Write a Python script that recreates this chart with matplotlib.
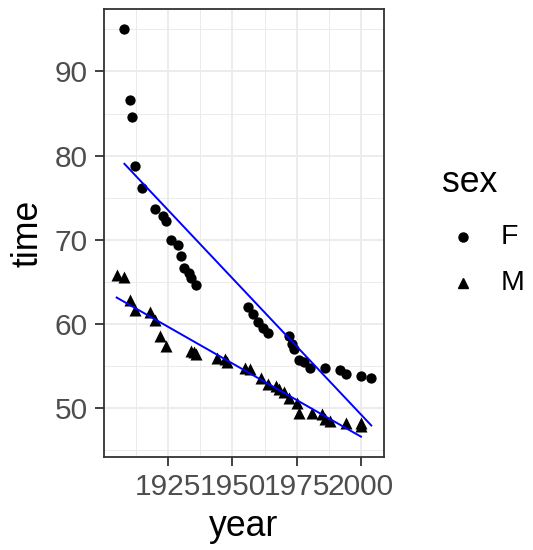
import numpy as np
import matplotlib.pyplot as plt
from matplotlib.lines import Line2D

plt.rcParams['font.family'] = ['Liberation Sans', 'DejaVu Sans']

# --- data: 100m freestyle world records ---
year_m = [1905, 1908, 1910, 1912, 1918, 1920, 1922, 1924, 1934, 1935, 1936,
          1944, 1947, 1948, 1955, 1957, 1961, 1964, 1967, 1968, 1970, 1972,
          1975, 1976, 1981, 1985, 1986, 1988, 1994, 2000, 2000]
time_m = [65.8, 65.6, 62.8, 61.6, 61.4, 60.4, 58.6, 57.4, 56.8, 56.6, 56.4,
          55.9, 55.8, 55.4, 54.8, 54.6, 53.6, 52.9, 52.6, 52.2, 51.9, 51.22,
          50.59, 49.44, 49.36, 49.24, 48.74, 48.42, 48.21, 48.18, 47.84]
year_f = [1908, 1910, 1911, 1912, 1915, 1920, 1923, 1924, 1926, 1929, 1930,
          1931, 1933, 1934, 1936, 1956, 1958, 1960, 1962, 1964, 1972, 1973,
          1974, 1976, 1978, 1980, 1986, 1992, 1994, 2000, 2004]
time_f = [95.0, 86.6, 84.6, 78.8, 76.2, 73.6, 72.8, 72.2, 70.0, 69.4, 68.0,
          66.6, 66.0, 65.4, 64.6, 62.0, 61.2, 60.2, 59.5, 58.9, 58.5, 57.54,
          56.96, 55.65, 55.41, 54.79, 54.73, 54.48, 54.01, 53.77, 53.52]
sex_levels = ['F', 'M']
x_ticks = [1925, 1950, 1975, 2000]
y_ticks = [50, 60, 70, 80, 90]

fig = plt.figure(figsize=(5.33, 5.5), dpi=100)
ax = fig.add_axes([0.195, 0.169, 0.5255, 0.8146])

# linear fits per group (like geom_smooth(method = "lm"))
fits = []
for xs, ys in [(year_f, time_f), (year_m, time_m)]:
    xs = np.array(xs, float)
    b, a = np.polyfit(xs, ys, 1)
    xr = np.array([xs.min(), xs.max()])
    fits.append((xr, a + b * xr))

ax.scatter(year_f, time_f, marker='o', s=55, color='black', linewidths=0, zorder=3)
ax.scatter(year_m, time_m, marker='^', s=75, color='black', linewidths=0, zorder=3)
for xr, yr in fits:
    ax.plot(xr, yr, color='blue', lw=1.4, zorder=4)

# limits with 5% expansion
allx = year_f + year_m
ally = time_f + time_m + [v for _, yr in fits for v in yr]
dx = (max(allx) - min(allx)) * 0.05
dy = (max(ally) - min(ally)) * 0.05
ax.set_xlim(min(allx) - dx, max(allx) + dx)
ax.set_ylim(min(ally) - dy, max(ally) + dy)

ax.set_xticks(x_ticks)
ax.set_yticks(y_ticks)
ax.set_xticks([1912.5, 1937.5, 1962.5, 1987.5], minor=True)
ax.set_yticks([45, 55, 65, 75, 85, 95], minor=True)
ax.grid(which='major', color='#EBEBEB', lw=1.3)
ax.grid(which='minor', color='#EBEBEB', lw=0.7)
ax.set_axisbelow(True)
for s in ax.spines.values():
    s.set_color('#333333')
    s.set_linewidth(1.3)
ax.tick_params(which='major', length=6.5, width=1.3, color='#333333',
               labelsize=21.5, labelcolor='#4D4D4D', pad=5)
ax.tick_params(which='minor', length=0)

ax.set_xlabel('year', fontsize=25.7, labelpad=6)
ax.set_ylabel('time', fontsize=25.7, labelpad=7)

# legend drawn by hand at figure level
fig.text(442 / 533, 1 - 183 / 550, 'sex', fontsize=25.7, ha='left', va='center')
legend_markers = ['o', '^']
legend_sizes = [6.5, 7.5]
for i, lab in enumerate(sex_levels):
    yy = 1 - (237 + 46 * i) / 550
    fig.add_artist(Line2D([463 / 533], [yy], marker=legend_markers[i], ls='',
                          color='black', markersize=legend_sizes[i],
                          transform=fig.transFigure))
    fig.text(501 / 533, yy, lab, fontsize=20.5, ha='left', va='center')

fig.savefig('out.png', dpi=100)
